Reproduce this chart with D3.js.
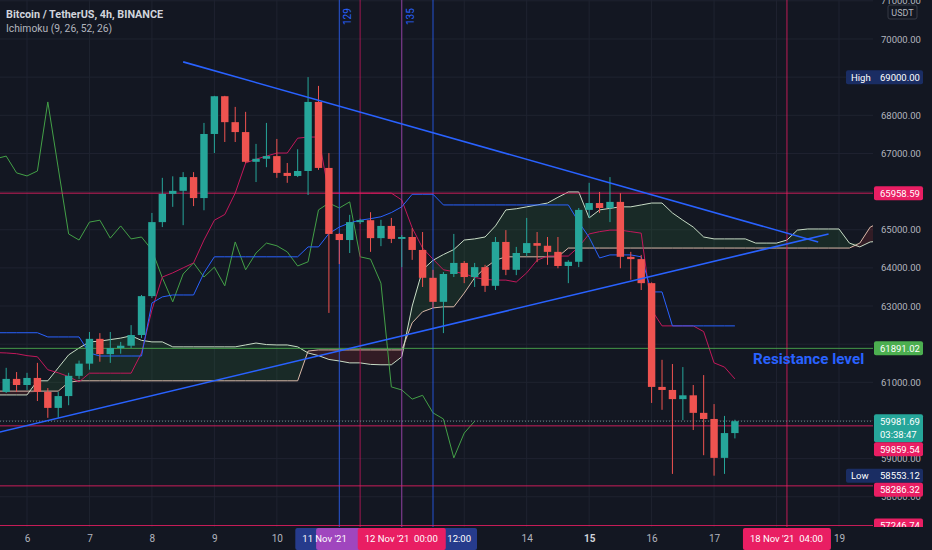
<!DOCTYPE html>
<html lang="en">
<head>
<meta charset="UTF-8">
<title>Bitcoin / TetherUS 4h Ichimoku</title>
<script src="https://d3js.org/d3.v7.min.js"></script>
<style>
  body { margin: 0; background: #131722; }
  svg { display: block; font-family: Roboto, "Liberation Sans", sans-serif; }
</style>
</head>
<body>
<div id="chart"></div>
<script>
// first visible 4h bar: 5 Nov 2021 16:00
const firstBar = Date.UTC(2021, 10, 5, 16);
const barMs = 4 * 3600 * 1000;

const opens = [60750,61090,60930,61115,60750,60330,60640,61170,61490,62140,61740,61900,61960,62240,63260,65200,65940,66020,66380,65830,
  67510,68500,67820,67560,66780,66860,66930,66490,66410,66540,68350,66620,64890,64730,65200,65250,64780,65100,64760,64810,
  64470,63740,63110,63840,64130,63760,64020,63530,64680,63950,64390,64650,64580,64420,64050,64160,65520,65700,65570,65730,
  64290,64230,63600,60880,60800,60560,60660,60200,60040,59020,59670];
const highs = [61380,61270,61250,61510,60850,60750,61250,61570,62320,62290,62320,62060,62500,63290,65440,66360,66400,66510,66510,67800,
  68510,68510,68220,68090,67250,67800,67380,66750,67110,69000,68770,67010,64910,65390,65290,65460,65260,65310,64860,65040,
  64940,63950,63890,64890,64180,64130,64080,64810,64990,64550,65310,64940,64810,64810,64200,65570,66230,65990,66380,65960,
  64420,64340,63620,61590,61480,61400,60930,61190,60430,60120,60020];
const lows = [60720,60750,60800,60510,60070,60070,60400,61090,61330,61540,61510,61750,61900,62160,63210,65070,65600,65120,65620,65510,
  67010,67300,67300,66750,66250,66640,66360,66230,66380,65910,66570,62820,64100,64390,65150,64420,64570,64650,64020,64210,
  63500,62950,62290,63760,63600,63500,63370,63420,63810,63810,64310,64150,64080,63990,63600,64020,65310,65440,65200,63990,
  63690,63420,60460,60280,58600,60010,59750,59090,58553.12,58600,59530];
const closes = [61090,60930,61115,60750,60330,60640,61170,61490,62140,61740,61900,61960,62240,63260,65200,65940,66020,66380,65830,67510,
  68500,67820,67560,66780,66860,66930,66490,66410,66540,68350,66620,64890,64730,65200,65250,64780,65100,64760,64810,64470,
  63740,63110,63840,64130,63760,64020,63530,64680,63950,64390,64650,64580,64420,64050,64160,65520,65700,65570,65730,64290,
  64230,63600,60880,60800,60560,60660,60200,60040,59020,59670,59981.69];

// Ichimoku lines, starting one bar before the first visible bar
const lineStart = -1;
const conversion = [62300,62300,62300,62300,62300,62190,62190,62190,62190,61770,61690,61690,61690,61690,61690,63080,63240,63290,63290,63290,63870,
  64290,64290,64290,64290,64290,64290,64290,64290,64290,64550,64550,64900,65070,65180,65250,65290,65340,65450,65600,65930,
  65930,65930,65650,65650,65650,65650,65650,65650,65650,65650,65650,65650,65650,65650,65650,65200,64800,64260,64340,64340,
  64340,64290,63370,63370,62480,62480,62480,62480,62480,62480,62480];
const base = [61780,61770,61750,61700,61670,61330,61250,61150,61010,61240,61240,61240,61240,61240,61770,62900,63760,63870,64000,64130,64730,
  65250,65400,65960,66750,66850,66930,67010,67010,67400,67430,67430,65960,65960,65960,65960,65960,65960,65960,65780,65050,
  64520,64230,63950,63900,63850,63750,63700,63680,63680,63630,63870,64200,64310,64310,64310,64550,64890,64950,64990,64990,
  64950,64910,62900,62480,62480,62480,62480,62330,61510,61400,61090];
// lagging span = close plotted 25 bars back
const lagShift = 25;

// leading spans, starting one bar before the first visible bar
const cloudStart = -1;
const spanA = [60670,60670,60670,60670,61040,61040,61380,61720,61900,62060,62080,62120,62160,62220,62100,62060,62060,61930,61930,61930,
  61930,61930,61930,61930,61980,62030,61990,61980,61980,61930,61770,61700,61600,61560,61510,61510,61470,61460,61460,61670,
  63000,63950,64200,64350,64480,64730,64760,64810,65100,65520,65550,65600,65650,65700,65850,65990,65990,65310,65520,65560,
  65600,65600,65650,65700,65700,65440,65250,65070,64810,64760,64760,64760,64760,64650,64650,64650,64730,64990,65020,65020,
  65020,65020,64650,64550,64680,64700];
const spanB = [60770,60770,60770,60770,60770,60770,60770,61000,61040,61040,61040,61040,61040,61040,61040,61040,61040,61040,61040,61040,
  61040,61040,61040,61040,61040,61040,61040,61040,61040,61040,61820,61850,61850,61850,61850,61850,61850,61850,61850,61850,
  62560,62850,62950,62980,62980,63340,63740,64000,64200,64290,64290,64290,64290,64290,64290,64520,64520,64520,64520,64520,
  64520,64520,64520,64520,64520,64520,64520,64520,64520,64520,64520,64520,64520,64520,64520,64520,64520,64520,64520,64520,
  64520,64520,64520,64650,65070,65200];

// drawings
const trendDown = [[Date.UTC(2021, 10, 8, 12), 69400], [Date.UTC(2021, 10, 18, 16), 64680]];
const trendUp = [[Date.UTC(2021, 10, 5, 12), 59673], [Date.UTC(2021, 10, 18, 20), 64890]];
const levelPrices = [65958.59, 61891.02, 59859.54, 58286.32, 57246.74];
const levelColors = ["#e91e63", "#4caf50", "#e91e63", "#e91e63", "#e91e63"];
const vTimes = [Date.UTC(2021, 10, 11, 0), Date.UTC(2021, 10, 11, 8), Date.UTC(2021, 10, 12, 0), Date.UTC(2021, 10, 12, 12), Date.UTC(2021, 10, 18, 4)];
const vColors = ["#2962ff", "#c2185b", "#ab47bc", "#2962ff", "#e91e63"];
const barCounts = [{ t: vTimes[0], text: "129" }, { t: vTimes[2], text: "135" }];
const lastPrice = 59981.69, countdown = "03:38:47";
const highPrice = 69000, lowPrice = 58553.12;
const priceTicks = d3.range(57000, 71001, 1000);

const W = 932, H = 550, plotW = 873, plotH = 527;
const up = "#26a69a", down = "#ef5350";

const svg = d3.select("#chart").append("svg").attr("width", W).attr("height", H);
svg.append("rect").attr("width", W).attr("height", H).attr("fill", "#131722");

const x = d3.scaleUtc().domain([Date.UTC(2021, 10, 6), Date.UTC(2021, 10, 19)]).range([27, 839]);
const y = d3.scaleLinear().domain([57208, 71022]).range([plotH, 0]);
const bx = i => x(new Date(firstBar + i * barMs));

svg.append("clipPath").attr("id", "plot").append("rect").attr("width", plotW).attr("height", plotH);
const plot = svg.append("g").attr("clip-path", "url(#plot)");

// grid
const days = d3.utcDay.range(Date.UTC(2021, 10, 5), Date.UTC(2021, 10, 21));
plot.selectAll("line.vg").data(days).join("line")
  .attr("x1", d => x(d)).attr("x2", d => x(d)).attr("y1", 0).attr("y2", plotH)
  .attr("stroke", "#1f2330");
plot.selectAll("line.hg").data(priceTicks).join("line")
  .attr("x1", 0).attr("x2", plotW).attr("y1", d => y(d)).attr("y2", d => y(d))
  .attr("stroke", "#1f2330");

// cloud
const cloud = spanA.map((a, k) => ({ i: k + cloudStart, a, b: spanB[k] }));
plot.append("path").datum(cloud).attr("fill", "rgba(67,160,71,0.14)")
  .attr("d", d3.area().x(d => bx(d.i)).y0(d => y(d.b)).y1(d => y(Math.max(d.a, d.b))));
plot.append("path").datum(cloud).attr("fill", "rgba(244,67,54,0.14)")
  .attr("d", d3.area().x(d => bx(d.i)).y0(d => y(d.b)).y1(d => y(Math.min(d.a, d.b))));

const line = d3.line().x(d => bx(d.i)).y(d => y(d.v));
function drawLine(pts, color, w) {
  plot.append("path").datum(pts).attr("fill", "none").attr("stroke", color)
    .attr("stroke-width", w).attr("d", line);
}
drawLine(cloud.map(d => ({ i: d.i, v: d.b })), "#d9b8a8", 1);
drawLine(cloud.map(d => ({ i: d.i, v: d.a })), "#c8dcc6", 1);
drawLine(d3.range(-1, closes.length - lagShift).map(i => ({ i, v: closes[i + lagShift] })), "#43a047", 1);
drawLine(base.map((v, k) => ({ i: k + lineStart, v })), "#c2185b", 1);
drawLine(conversion.map((v, k) => ({ i: k + lineStart, v })), "#2962ff", 1);

// vertical lines
plot.selectAll("line.vl").data(vTimes).join("line")
  .attr("x1", d => x(d)).attr("x2", d => x(d)).attr("y1", 0).attr("y2", plotH)
  .attr("stroke", (d, k) => vColors[k]).attr("stroke-opacity", 0.8);

// horizontal levels
plot.selectAll("line.hl").data(levelPrices).join("line")
  .attr("x1", 0).attr("x2", plotW).attr("y1", d => y(d)).attr("y2", d => y(d))
  .attr("stroke", (d, k) => levelColors[k]).attr("stroke-opacity", 0.85);
plot.append("line").attr("x1", 0).attr("x2", plotW).attr("y1", y(lastPrice)).attr("y2", y(lastPrice))
  .attr("stroke", "#6b8a8c").attr("stroke-dasharray", "1,2");

// candles
const bars = d3.range(opens.length);
const bw = 7.4;
plot.selectAll("line.wick").data(bars).join("line")
  .attr("x1", i => bx(i)).attr("x2", i => bx(i))
  .attr("y1", i => y(highs[i])).attr("y2", i => y(lows[i]))
  .attr("stroke", i => closes[i] >= opens[i] ? up : down);
plot.selectAll("rect.body").data(bars).join("rect")
  .attr("x", i => bx(i) - bw / 2).attr("width", bw)
  .attr("y", i => y(Math.max(opens[i], closes[i])))
  .attr("height", i => Math.max(1, Math.abs(y(opens[i]) - y(closes[i]))))
  .attr("fill", i => closes[i] >= opens[i] ? up : down);

// trend lines
const tl = d3.line().x(d => x(d[0])).y(d => y(d[1]));
[trendDown, trendUp].forEach(t => {
  plot.append("path").datum(t).attr("fill", "none").attr("stroke", "#2962ff")
    .attr("stroke-width", 1.6).attr("d", tl);
});

plot.append("text").attr("x", 753).attr("y", 364).attr("fill", "#2962ff")
  .attr("font-size", 15.2).attr("font-weight", 700).text("Resistance level");

// bar counts on vertical lines
barCounts.forEach(b => {
  plot.append("text").attr("transform", `translate(${x(b.t) + 12},25) rotate(-90)`)
    .attr("fill", "#2962ff").attr("font-size", 10).text(b.text);
});

// header
svg.append("text").attr("x", 6).attr("y", 18).attr("fill", "#d1d4dc").attr("font-size", 10.8)
  .attr("font-weight", 700).text("Bitcoin / TetherUS, 4h, BINANCE");
svg.append("text").attr("x", 6).attr("y", 32).attr("fill", "#b2b5be").attr("font-size", 10.3)
  .text("Ichimoku (9, 26, 52, 26)");

// price labels, pushed down when they overlap
const fmt = d3.format(".2f");
const labels = [
  { v: highPrice, bg: "#1a2d63", tag: "High", h: 14 },
  { v: levelPrices[0], bg: "#e91e63", h: 14 },
  { v: levelPrices[1], bg: "#4caf50", h: 14 },
  { v: lastPrice, bg: up, h: 28, sub: countdown },
  { v: levelPrices[2], bg: "#e91e63", h: 14 },
  { v: lowPrice, bg: "#1a2d63", tag: "Low", h: 14 },
  { v: levelPrices[3], bg: "#e91e63", h: 14 },
  { v: levelPrices[4], bg: "#e91e63", h: 14 }
].sort((a, b) => b.v - a.v);
let prevBottom = -Infinity;
labels.forEach(l => { l.top = Math.max(y(l.v) - 7, prevBottom); prevBottom = l.top + l.h; });

// price axis (tick labels hidden behind a price label are dropped)
const covered = p => labels.some(l => y(p) > l.top && y(p) < l.top + l.h);
const yAxis = svg.append("g").attr("transform", `translate(${plotW},0)`)
  .call(d3.axisRight(y).tickValues(priceTicks.filter(p => !covered(p)))
    .tickFormat(d3.format(".2f")).tickSize(0).tickPadding(8));
yAxis.select(".domain").remove();
yAxis.selectAll("text").attr("fill", "#b2b5be").attr("font-size", 9.5).attr("font-family", "Roboto, sans-serif");

svg.append("rect").attr("x", 888).attr("y", 5).attr("width", 29).attr("height", 14).attr("rx", 2)
  .attr("fill", "#131722").attr("stroke", "#363a45");
svg.append("text").attr("x", 902.5).attr("y", 15.5).attr("text-anchor", "middle").attr("fill", "#b2b5be")
  .attr("font-size", 9).text("USDT");

labels.forEach(l => {
  const g = svg.append("g");
  const left = l.tag ? 846 : plotW + 1;
  g.append("rect").attr("x", left).attr("y", l.top).attr("width", 923 - left).attr("height", l.h)
    .attr("rx", 2).attr("fill", l.bg);
  g.append("text").attr("x", 880).attr("y", l.top + 10.5).attr("fill", "#ffffff").attr("font-size", 9.5).text(fmt(l.v));
  if (l.sub) g.append("text").attr("x", 880).attr("y", l.top + 24).attr("fill", "#ffffff").attr("font-size", 9.5).text(l.sub);
  if (l.tag) g.append("text").attr("x", 851).attr("y", l.top + 10.5).attr("fill", "#ffffff").attr("font-size", 9.5).text(l.tag);
});

// time axis (day labels hidden behind a time label are dropped)
const boxW = 88;
const hiddenDay = d => vTimes.some(t => Math.abs(x(d) - x(t)) < boxW / 2 + 4);
svg.append("rect").attr("x", 0).attr("y", plotH).attr("width", W).attr("height", H - plotH).attr("fill", "#131722");
const xAxis = svg.append("g").attr("transform", `translate(0,${plotH})`)
  .call(d3.axisBottom(x).tickValues(d3.utcDay.range(Date.UTC(2021, 10, 6), Date.UTC(2021, 10, 20)).filter(d => !hiddenDay(d)))
    .tickFormat(d3.utcFormat("%-d")).tickSize(0).tickPadding(8));
xAxis.select(".domain").remove();
xAxis.selectAll("text").attr("fill", "#b2b5be").attr("font-size", 10).attr("font-family", "Roboto, sans-serif")
  .filter(d => d.getUTCDate() === 15).attr("fill", "#d1d4dc").attr("font-weight", 700);

// time labels of the vertical lines; overlapping boxes only show what stays visible
const dFmt = d3.utcFormat("%-d %b '%y"), tFmt = d3.utcFormat("%H:%M");
function timeBox(t, bg) {
  svg.append("rect").attr("x", x(t) - boxW / 2).attr("y", plotH + 1).attr("width", boxW).attr("height", H - plotH - 1)
    .attr("rx", 2).attr("fill", bg);
}
function tText(px, s, anchor) {
  svg.append("text").attr("x", px).attr("y", 542).attr("text-anchor", anchor || "start")
    .attr("fill", "#ffffff").attr("font-size", 9.5).text(s);
}
timeBox(vTimes[3], "#263b8c");
tText(x(vTimes[3]) + boxW / 2 - 6, tFmt(vTimes[3]), "end");
timeBox(vTimes[0], "#263b8c");
timeBox(vTimes[1], "#a046be");
tText(x(vTimes[0]) - boxW / 2 + 7, dFmt(vTimes[0]));
timeBox(vTimes[2], "#e91e63");
tText(x(vTimes[2]) - boxW / 2 + 7, dFmt(vTimes[2]));
tText(x(vTimes[2]) + boxW / 2 - 8, tFmt(vTimes[2]), "end");
timeBox(vTimes[4], "#e91e63");
tText(x(vTimes[4]) - boxW / 2 + 7, dFmt(vTimes[4]));
tText(x(vTimes[4]) + boxW / 2 - 8, tFmt(vTimes[4]), "end");
</script>
</body>
</html>
